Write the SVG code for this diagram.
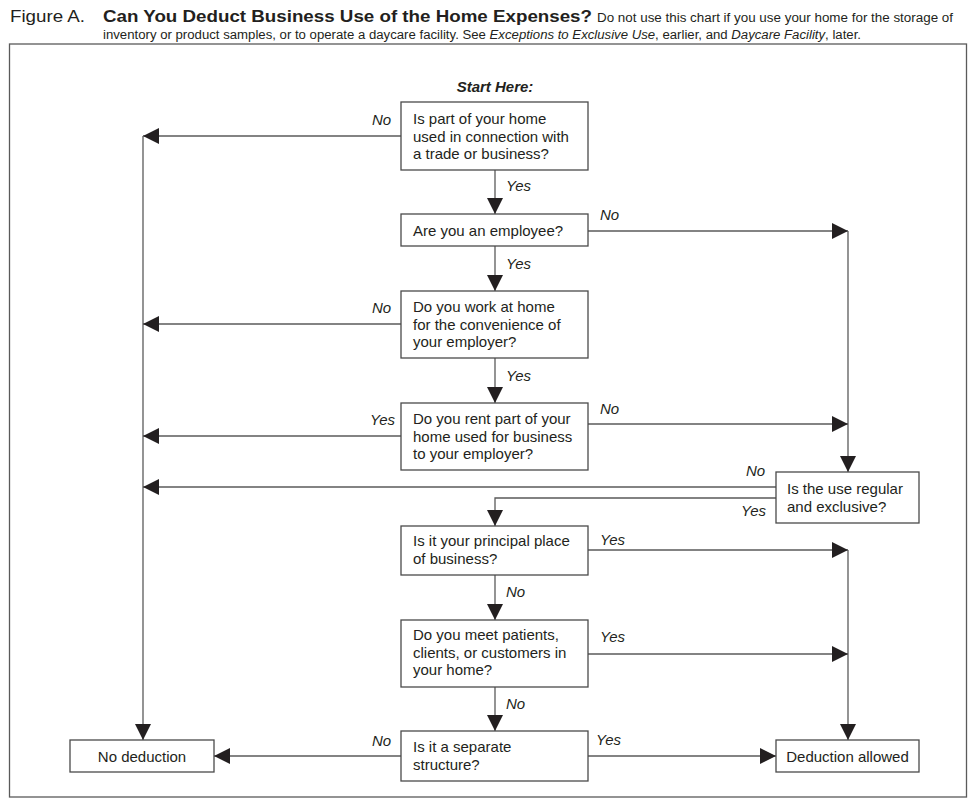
<svg xmlns="http://www.w3.org/2000/svg" width="975" height="807" viewBox="0 0 975 807">
<style>
text{font-family:"Liberation Sans",Arial,Helvetica,sans-serif;fill:#231f20}
.t{font-size:15px}
.l{font-size:15px;font-style:italic}
.box{fill:#fff;stroke:#4a4a4a;stroke-width:1.3}
.c{fill:none;stroke:#5a5a5a;stroke-width:1.3}
</style>
<defs>
<marker id="ah" viewBox="0 0 16 16" refX="16" refY="8" markerWidth="16" markerHeight="16" markerUnits="userSpaceOnUse" orient="auto">
<path d="M0,0 L16,8 L0,16 Z" fill="#231f20"/>
</marker>
</defs>
<rect width="975" height="807" fill="#fff"/>
<g id="header">
<text x="10" y="22" font-size="17" textLength="75" lengthAdjust="spacingAndGlyphs">Figure A.</text>
<text x="103" y="22" font-size="17" font-weight="bold" textLength="489" lengthAdjust="spacingAndGlyphs">Can You Deduct Business Use of the Home Expenses?</text>
<text x="597" y="22" font-size="12.5" textLength="356" lengthAdjust="spacingAndGlyphs">Do not use this chart if you use your home for the storage of</text>
<text x="103" y="39" font-size="12.5" textLength="758" lengthAdjust="spacingAndGlyphs">inventory or product samples, or to operate a daycare facility. See <tspan font-style="italic">Exceptions to Exclusive Use</tspan>, earlier, and <tspan font-style="italic">Daycare Facility</tspan>, later.</text>
</g>
<rect id="frame" x="9.5" y="44" width="957" height="753" fill="none" stroke="#5a5a5a" stroke-width="1.3"/>
<text x="495" y="92" font-size="15" font-weight="bold" font-style="italic" text-anchor="middle">Start Here:</text>
<g id="connectors">
<path class="c" d="M401,136 H143" marker-end="url(#ah)"/>
<path class="c" d="M143,136 V740" marker-end="url(#ah)"/>
<path class="c" d="M495,170 V214" marker-end="url(#ah)"/>
<path class="c" d="M588,231 H848" marker-end="url(#ah)"/>
<path class="c" d="M848,231 V472" marker-end="url(#ah)"/>
<path class="c" d="M495,246 V291" marker-end="url(#ah)"/>
<path class="c" d="M401,324 H143" marker-end="url(#ah)"/>
<path class="c" d="M495,358 V403" marker-end="url(#ah)"/>
<path class="c" d="M401,436 H143" marker-end="url(#ah)"/>
<path class="c" d="M588,424 H848" marker-end="url(#ah)"/>
<path class="c" d="M776,487 H143" marker-end="url(#ah)"/>
<path class="c" d="M776,498 H495 V526" marker-end="url(#ah)"/>
<path class="c" d="M588,550 H848" marker-end="url(#ah)"/>
<path class="c" d="M848,550 V740" marker-end="url(#ah)"/>
<path class="c" d="M495,575 V620" marker-end="url(#ah)"/>
<path class="c" d="M588,654 H848" marker-end="url(#ah)"/>
<path class="c" d="M495,687 V731" marker-end="url(#ah)"/>
<path class="c" d="M401,756 H214" marker-end="url(#ah)"/>
<path class="c" d="M588,756 H776" marker-end="url(#ah)"/>
<text class="l" x="372" y="125">No</text>
<text class="l" x="506" y="191">Yes</text>
<text class="l" x="600" y="220">No</text>
<text class="l" x="506" y="269">Yes</text>
<text class="l" x="372" y="313">No</text>
<text class="l" x="506" y="381">Yes</text>
<text class="l" x="370" y="425">Yes</text>
<text class="l" x="600" y="414">No</text>
<text class="l" x="746" y="476">No</text>
<text class="l" x="741" y="516">Yes</text>
<text class="l" x="600" y="545">Yes</text>
<text class="l" x="506" y="597">No</text>
<text class="l" x="600" y="642">Yes</text>
<text class="l" x="506" y="709">No</text>
<text class="l" x="372" y="746">No</text>
<text class="l" x="596" y="745">Yes</text>
</g>
<g id="q1">
<rect class="box" x="401" y="102" width="187" height="68"/>
<text class="t" x="413" y="124">Is part of your home</text>
<text class="t" x="413" y="141.5">used in connection with</text>
<text class="t" x="413" y="159">a trade or business?</text>
</g>
<g id="q2">
<rect class="box" x="401" y="214" width="187" height="32"/>
<text class="t" x="413" y="236">Are you an employee?</text>
</g>
<g id="q3">
<rect class="box" x="401" y="291" width="187" height="67"/>
<text class="t" x="413" y="312">Do you work at home</text>
<text class="t" x="413" y="329.5">for the convenience of</text>
<text class="t" x="413" y="347">your employer?</text>
</g>
<g id="q4">
<rect class="box" x="401" y="403" width="187" height="67"/>
<text class="t" x="413" y="424">Do you rent part of your</text>
<text class="t" x="413" y="441.5">home used for business</text>
<text class="t" x="413" y="459">to your employer?</text>
</g>
<g id="q5">
<rect class="box" x="776" y="472" width="143" height="51"/>
<text class="t" x="787" y="494">Is the use regular</text>
<text class="t" x="787" y="512">and exclusive?</text>
</g>
<g id="q6">
<rect class="box" x="401" y="526" width="187" height="49"/>
<text class="t" x="413" y="546">Is it your principal place</text>
<text class="t" x="413" y="564">of business?</text>
</g>
<g id="q7">
<rect class="box" x="401" y="620" width="187" height="67"/>
<text class="t" x="413" y="640">Do you meet patients,</text>
<text class="t" x="413" y="657.5">clients, or customers in</text>
<text class="t" x="413" y="675">your home?</text>
</g>
<g id="q8">
<rect class="box" x="401" y="731" width="187" height="50"/>
<text class="t" x="413" y="752">Is it a separate</text>
<text class="t" x="413" y="770">structure?</text>
</g>
<g id="no-deduction">
<rect class="box" x="70" y="740" width="144" height="32"/>
<text class="t" x="142" y="762" text-anchor="middle">No deduction</text>
</g>
<g id="deduction-allowed">
<rect class="box" x="776" y="740" width="143" height="32"/>
<text class="t" x="847.5" y="762" text-anchor="middle">Deduction allowed</text>
</g>
</svg>
